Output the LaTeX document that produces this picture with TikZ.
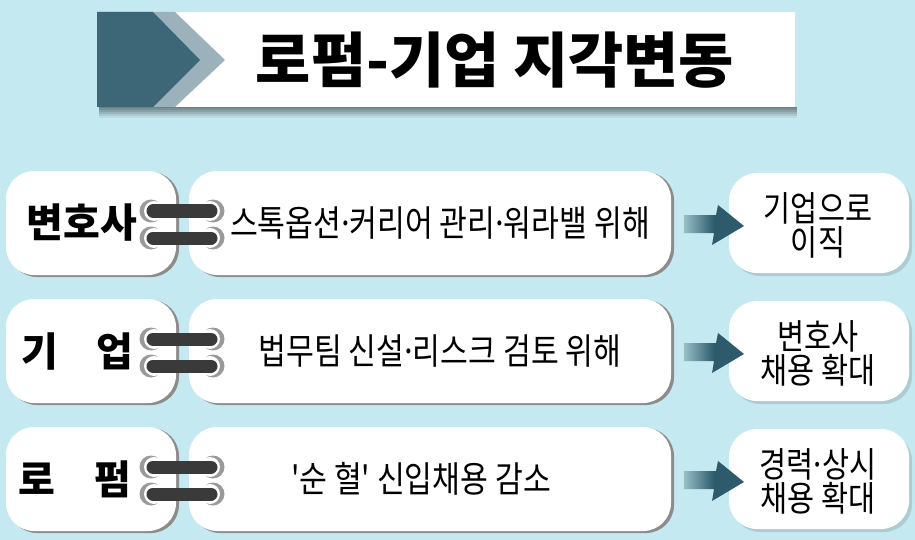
\documentclass[tikz,border=0pt]{standalone}
\usepackage{fontspec}
\newfontfamily\kr{Noto Sans CJK KR}
\newfontfamily\krn[FakeStretch=0.84]{Noto Sans CJK KR}
\newcommand\mdt{\kern-0.12em·\kern-0.12em}
\definecolor{bg}{HTML}{C5E9F0}
\definecolor{darkteal}{HTML}{3D6776}
\definecolor{lightteal}{HTML}{9BB1BB}
\definecolor{arrowc}{HTML}{2D5B6B}
\definecolor{barc}{HTML}{3A3A3A}
\tikzset{
  box/.style={fill=white, rounded corners=28pt, inner sep=0pt},
  boxshadow/.style={fill=black!45, rounded corners=28pt},
  lbl/.style={font=\kr\bfseries\fontsize{40}{44}\selectfont, inner sep=0pt},
  mtxt/.style={font=\krn\fontsize{36}{38}\selectfont, inner sep=0pt},
  rtxt/.style={font=\krn\fontsize{35}{35}\selectfont, inner sep=0pt, align=center},
  bar/.style={draw=barc, line width=13pt, line cap=round},
  ringout/.style={fill=black!40},
  ringin/.style={fill=white},
}
\begin{document}
\begin{tikzpicture}[x=1pt,y=-1pt]
\useasboundingbox (0,0) rectangle (915,540);
\fill[bg] (0,0) rectangle (915,540);
% banner shadow
\foreach \i/\o in {0/0.10,2/0.10,4/0.10,6/0.10,8/0.08,10/0.06}
  \fill[black, opacity=\o] (99,107) rectangle (797,108+\i);
\fill[white] (97,12) rectangle (795,107);
\fill[lightteal] (97,12) -- (175,12) -- (225,60) -- (175,107) -- (97,107) -- cycle;
\fill[darkteal] (97,12) -- (153,12) -- (200,60) -- (153,107) -- (97,107) -- cycle;
\node[font=\kr\bfseries\fontsize{60}{64}\selectfont, inner sep=0pt] (title) at (495,60) {로펌-기업 지각변동};
% rows
\foreach \cy/\n/\mx/\mt/\ra/\rb in {
  223/1/440/{스톡옵션\mdt 커리어 관리\mdt 워라밸 위해}/{기업으로}/{이직},
  351/2/440/{법무팀 신설\mdt 리스크 검토 위해}/{변호사}/{채용 확대},
  479/3/421/{'순 혈' 신입채용 감소}/{경력\mdt 상시}/{채용 확대}}{
  % shadows
  \fill[boxshadow] (9,\cy-51) rectangle (179,\cy+54);
  \fill[boxshadow] (192,\cy-51) rectangle (674,\cy+54);
  \fill[black, opacity=0.12, rounded corners=28pt] (732,\cy-46) rectangle (912,\cy+53);
  \node[box, minimum width=170pt, minimum height=104pt] (L\n) at (91,\cy) {};
  \node[box, minimum width=482pt, minimum height=104pt] (M\n) at (430,\cy) {};
  \node[box, minimum width=180pt, minimum height=100pt] (R\n) at (819,\cy) {};
  \node[mtxt] (mt\n) at (\mx,\cy) {\mt};
  \node[rtxt] (ra\n) at (818,\cy-15) {\ra};
  \node[rtxt] (rb\n) at (818,\cy+19) {\rb};
  % arrow
  \shade[left color=arrowc!30!bg, right color=arrowc, middle color=arrowc]
    (684,\cy-8) -- (716,\cy-8) -- (718,\cy-18) -- (744,\cy+3) -- (712,\cy+22) -- (714,\cy+10) -- (684,\cy+10) -- cycle;
  % rings and bars
  \foreach \dy in {-12,15}{
    \fill[ringout] (151,\cy+\dy) circle (11.5pt);
    \fill[ringin] (154,\cy+\dy) circle (10pt);
    \fill[ringout] (213,\cy+\dy) circle (11.5pt);
    \fill[ringin] (210,\cy+\dy) circle (10pt);
    \draw[bar] (153,\cy+\dy) -- (211,\cy+\dy);
  }
}
\node[lbl] (l1) at (82,223) {변호사};
\node[lbl] (l2a) at (40,351) {기};
\node[lbl] (l2b) at (115,351) {업};
\node[lbl] (l3a) at (37,479) {로};
\node[lbl] (l3b) at (113,479) {펌};
\end{tikzpicture}
\end{document}
